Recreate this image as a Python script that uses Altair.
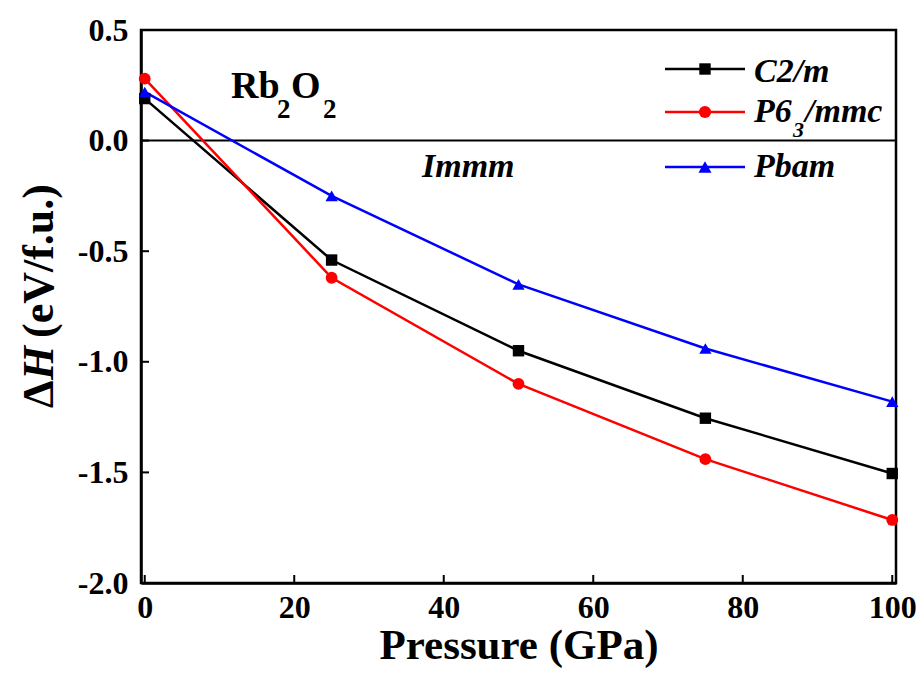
import altair as alt
import pandas as pd

pressure = [0, 25, 50, 75, 100]
c2m = [0.19, -0.54, -0.95, -1.255, -1.505]
p63mmc = [0.28, -0.62, -1.10, -1.44, -1.715]
pbam = [0.22, -0.25, -0.65, -0.94, -1.18]
series_names = ["C2/m", "P63/mmc", "Pbam"]
series_colors = ["#000000", "#FF0000", "#0000FF"]
series_shapes = ["square", "circle", "triangle-up"]
series_sizes = [130, 150, 170]
x_ticks = [0, 20, 40, 60, 80, 100]
y_ticks = [-2.0, -1.5, -1.0, -0.5, 0.0, 0.5]

rows = []
for name, vals in zip(series_names, [c2m, p63mmc, pbam]):
    for p, v in zip(pressure, vals):
        rows.append({"P": p, "H": v, "s": name})
df = pd.DataFrame(rows)

W, H = 755, 553
FONT = "'Times New Roman', 'Liberation Serif', serif"

xs = alt.Scale(domain=[-0.5, 100.5], nice=False, zero=False)
ys = alt.Scale(domain=[-2.0, 0.5], nice=False, zero=False)
cs = alt.Scale(domain=series_names, range=series_colors)
ss = alt.Scale(domain=series_names, range=series_shapes)
zs = alt.Scale(domain=series_names, range=series_sizes)

xaxis = alt.Axis(values=x_ticks, ticks=False, grid=False, title=None,
                 labelFont=FONT, labelFontWeight="bold", labelFontSize=32,
                 labelColor="black", labelPadding=9, labelFlush=False,
                 labelOverlap=False, domainColor="black", domainWidth=2.5)
yaxis = alt.Axis(values=y_ticks, ticks=False, grid=False, title=None,
                 labelFont=FONT, labelFontWeight="bold", labelFontSize=32,
                 labelColor="black", labelPadding=13, labelFlush=False,
                 labelOverlap=False, domainColor="black", domainWidth=2.5,
                 labelExpr="(datum.value < 0 ? '-' : '') + format(abs(datum.value), '.1f')")

base = alt.Chart(df)

lines = base.mark_line(strokeWidth=2.5).encode(
    x=alt.X("P:Q", scale=xs, axis=xaxis),
    y=alt.Y("H:Q", scale=ys, axis=yaxis),
    color=alt.Color("s:N", scale=cs, legend=None),
    detail="s:N",
    order=alt.Order("P:Q"),
)
points = base.mark_point(filled=True, opacity=1).encode(
    x=alt.X("P:Q", scale=xs),
    y=alt.Y("H:Q", scale=ys),
    color=alt.Color("s:N", scale=cs, legend=None),
    shape=alt.Shape("s:N", scale=ss, legend=None),
    size=alt.Size("s:N", scale=zs, legend=None),
)

zero = alt.Chart(pd.DataFrame({"z": [0.0]})).mark_rule(color="black", strokeWidth=2).encode(
    y=alt.Y("z:Q", scale=ys)
)

xt = alt.Chart(pd.DataFrame({"t": x_ticks})).mark_rule(color="black", strokeWidth=2).encode(
    x=alt.X("t:Q", scale=xs), y=alt.value(H), y2=alt.value(H - 8)
)
yt = alt.Chart(pd.DataFrame({"t": y_ticks})).mark_rule(color="black", strokeWidth=2).encode(
    y=alt.Y("t:Q", scale=ys), x=alt.value(0), x2=alt.value(8)
)

layers = [zero, lines, points, xt, yt]

def txt(text, x, y, size, style="normal", align="left", angle=0, baseline="alphabetic"):
    return alt.Chart(pd.DataFrame({"a": [0]})).mark_text(
        text=text, font=FONT, fontWeight="bold", fontStyle=style, fontSize=size,
        align=align, baseline=baseline, angle=angle, color="black"
    ).encode(x=alt.value(x), y=alt.value(y))

# Axis titles
layers.append(txt("Pressure (GPa)", 378, 629, 43, align="center"))
layers.append(txt("Δ", -88, 378, 44, angle=270))
layers.append(txt("H", -88, 350, 44, style="italic", angle=270))
layers.append(txt("(eV/f.u.)", -88, 308, 44, angle=270))

# Annotations
layers.append(txt("Rb", 90, 68, 38))
layers.append(txt("2", 136, 88, 27))
layers.append(txt("O", 150, 68, 38))
layers.append(txt("2", 182, 88, 27))
layers.append(txt("Immm", 281, 147, 34, style="italic"))

# Manual legend
leg_y = [39, 82, 137]
for name, col, shp, sz, yy in zip(series_names, series_colors, series_shapes, series_sizes, leg_y):
    layers.append(
        alt.Chart(pd.DataFrame({"a": [0]})).mark_rule(color=col, strokeWidth=2.5).encode(
            x=alt.value(524), x2=alt.value(604), y=alt.value(yy)
        )
    )
    layers.append(
        alt.Chart(pd.DataFrame({"a": [0]})).mark_point(
            filled=True, opacity=1, size=sz, shape=shp, color=col
        ).encode(x=alt.value(564), y=alt.value(yy))
    )
layers.append(txt("C2/m", 613, 52, 34, style="italic"))
layers.append(txt("P6", 613, 92, 34, style="italic"))
layers.append(txt("3", 652, 107, 22, style="italic"))
layers.append(txt("/mmc", 664, 92, 34, style="italic"))
layers.append(txt("Pbam", 613, 147, 34, style="italic"))

chart = alt.layer(*layers).properties(
    width=W, height=H,
    autosize=alt.AutoSizeParams(type="none"),
    padding={"left": 133, "top": 22, "right": 20, "bottom": 85},
).configure_view(stroke="black", strokeWidth=2.5)

chart.save("out.html", embed_options={"renderer": "svg", "actions": False})
